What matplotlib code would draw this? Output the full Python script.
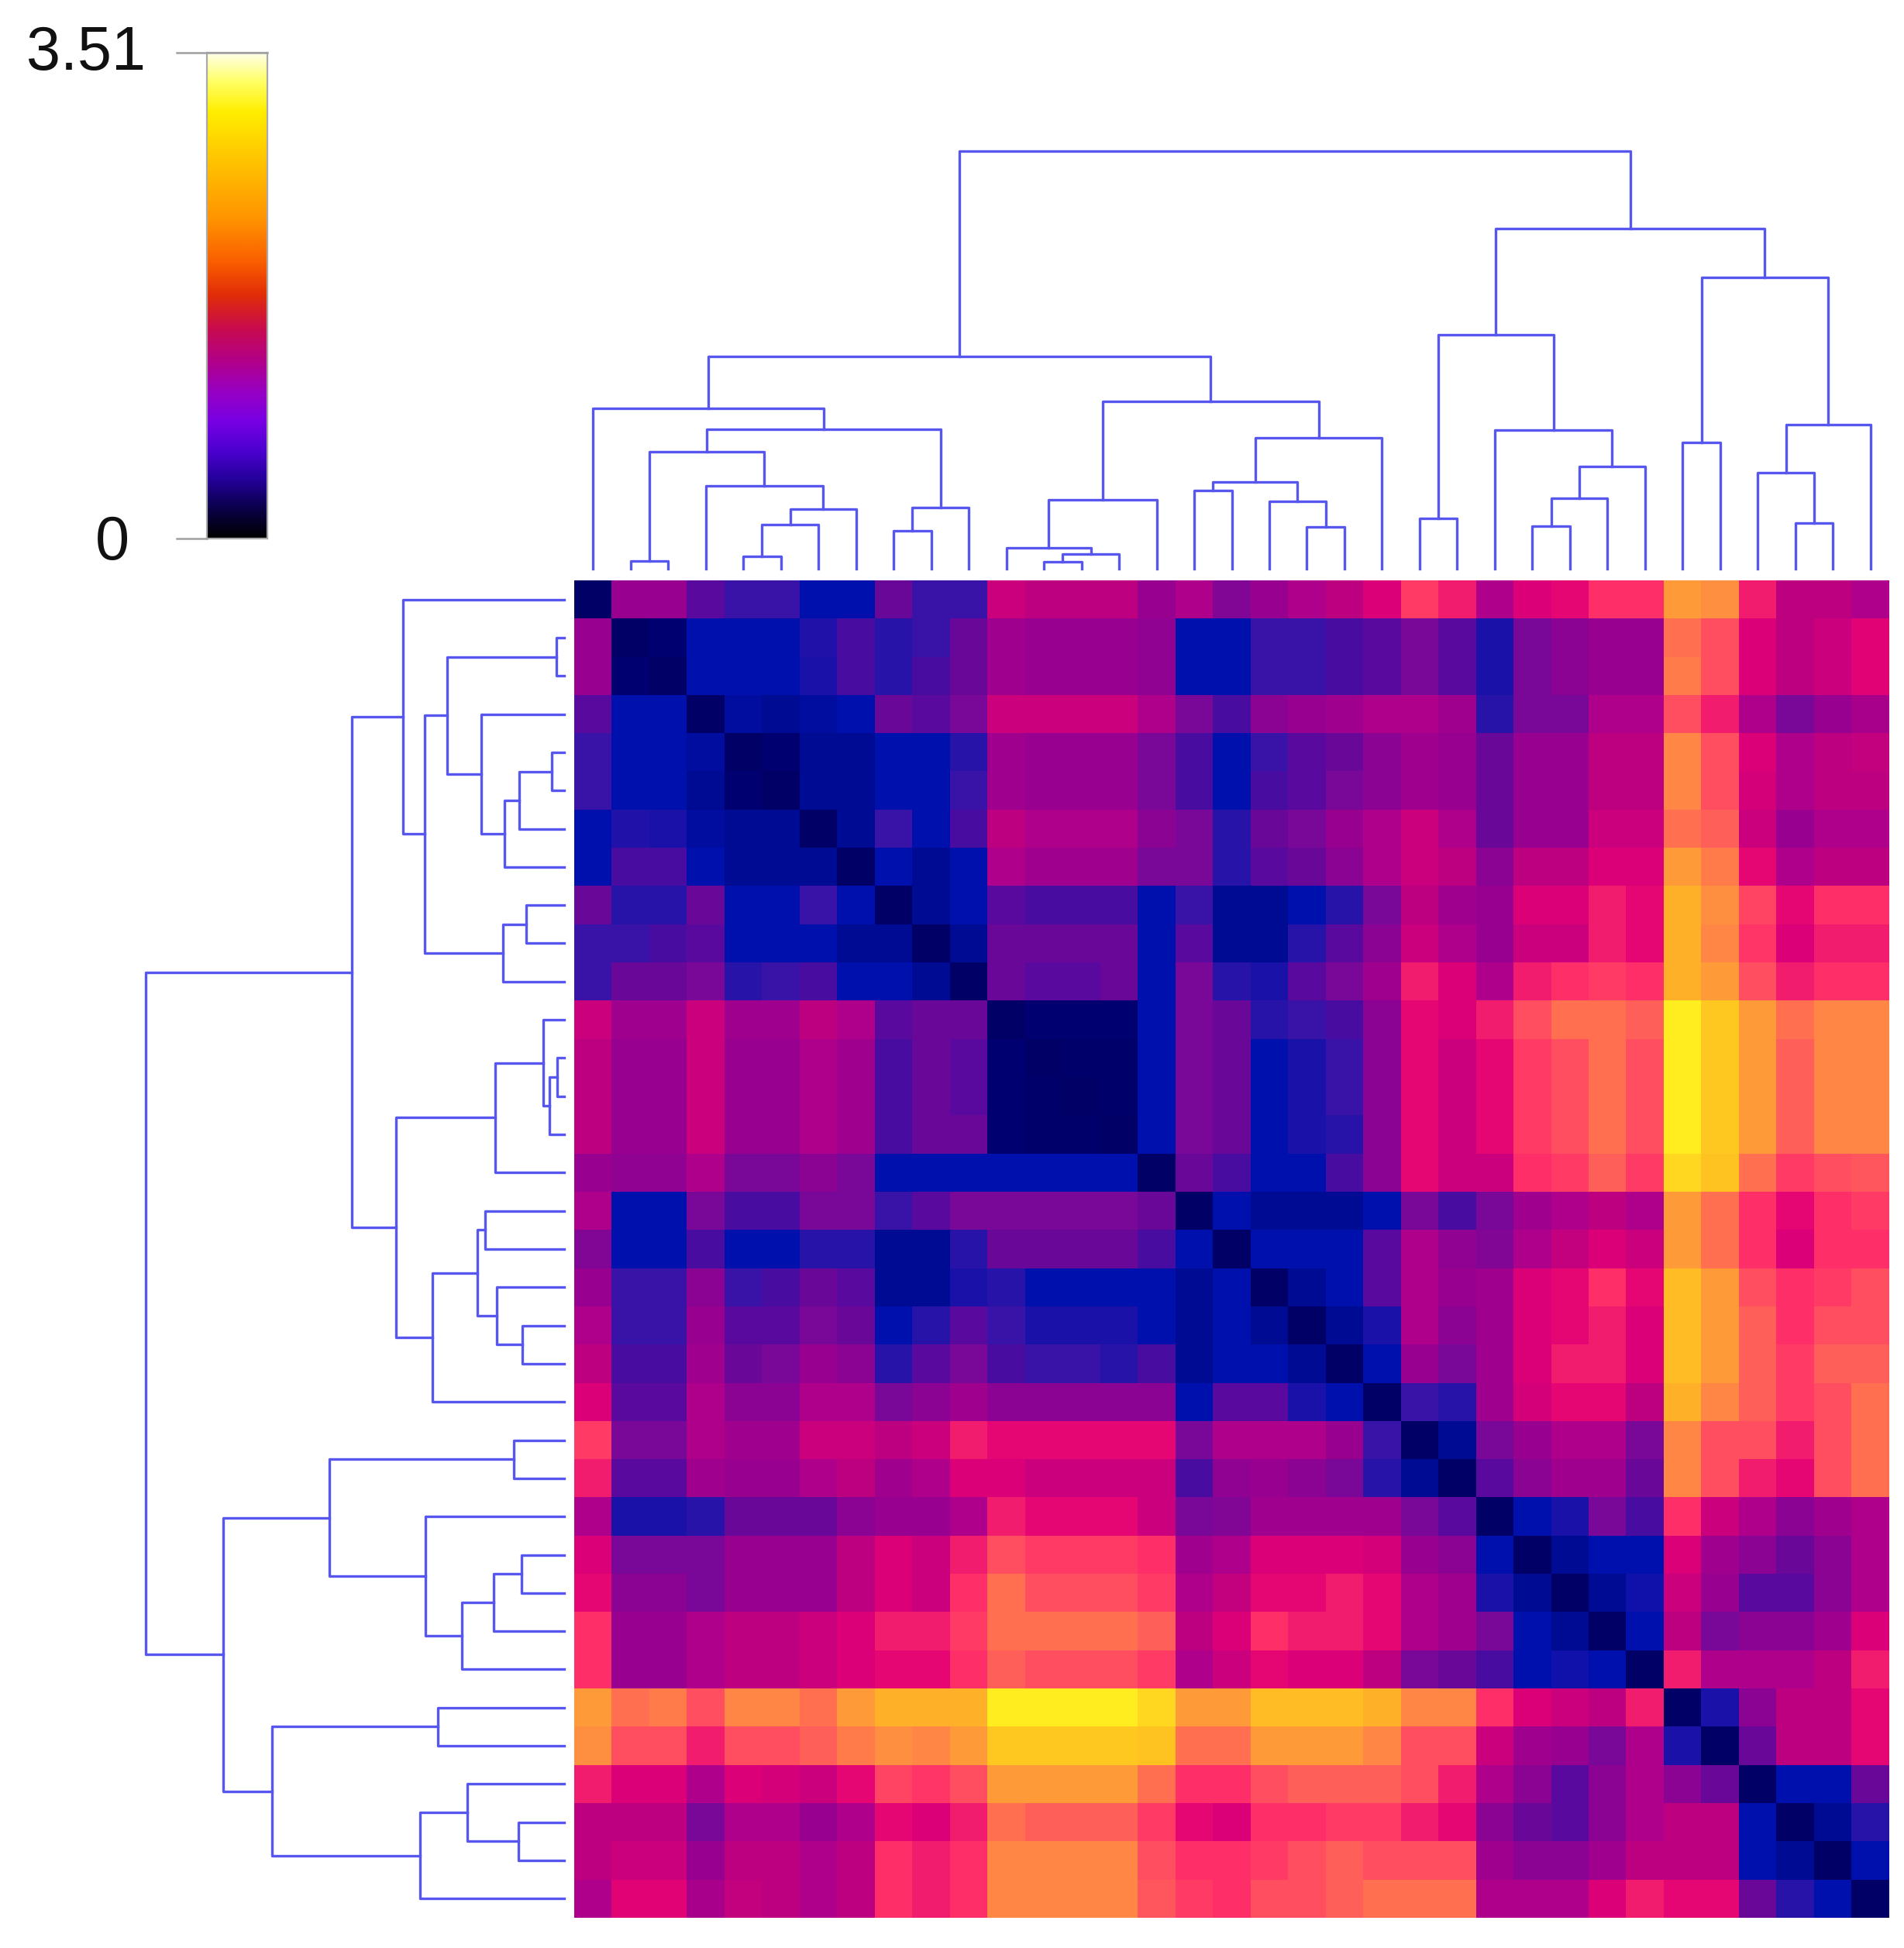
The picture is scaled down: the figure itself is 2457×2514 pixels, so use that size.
import numpy as np
import matplotlib
matplotlib.use("Agg")
import matplotlib.pyplot as plt
from matplotlib.colors import LinearSegmentedColormap
from matplotlib.lines import Line2D

VMAX = 3.51
N_LEAVES = 35

# distance matrix, upper triangle: row i holds columns i..34 (leaf order)
upper = [
    [0.0, 1.5, 1.5, 1.1, 0.9, 0.9, 0.55, 0.55, 1.2, 0.9, 0.9, 1.9, 1.8, 1.8, 1.8, 1.5, 1.7, 1.35,
     1.5, 1.7, 1.8, 2.0, 2.4, 2.2, 1.7, 2.0, 2.1, 2.3, 2.3, 2.9, 2.85, 2.2, 1.8, 1.8, 1.7],
    [0.0, 0.1, 0.55, 0.55, 0.55, 0.75, 1.0, 0.8, 0.9, 1.2, 1.6, 1.5, 1.5, 1.5, 1.45, 0.55, 0.55,
     0.9, 0.9, 1.0, 1.1, 1.3, 1.1, 0.7, 1.3, 1.4, 1.5, 1.5, 2.7, 2.5, 2.0, 1.8, 1.9, 2.05],
    [0.0, 0.55, 0.55, 0.55, 0.7, 1.0, 0.8, 1.0, 1.2, 1.6, 1.5, 1.5, 1.5, 1.45, 0.55, 0.55,
     0.9, 0.9, 1.0, 1.1, 1.3, 1.1, 0.7, 1.3, 1.4, 1.5, 1.5, 2.75, 2.5, 2.0, 1.8, 1.9, 2.05],
    [0.0, 0.45, 0.35, 0.45, 0.55, 1.2, 1.1, 1.3, 1.9, 1.9, 1.9, 1.9, 1.7, 1.3, 1.0,
     1.4, 1.5, 1.6, 1.7, 1.7, 1.6, 0.8, 1.3, 1.3, 1.7, 1.7, 2.5, 2.2, 1.7, 1.3, 1.5, 1.65],
    [0.0, 0.1, 0.35, 0.35, 0.55, 0.55, 0.8, 1.6, 1.5, 1.5, 1.5, 1.3, 1.0, 0.55,
     0.9, 1.1, 1.2, 1.4, 1.6, 1.5, 1.2, 1.5, 1.5, 1.8, 1.8, 2.8, 2.5, 2.0, 1.7, 1.8, 1.85],
    [0.0, 0.35, 0.35, 0.55, 0.55, 0.9, 1.6, 1.5, 1.5, 1.5, 1.3, 1.0, 0.55,
     1.0, 1.1, 1.3, 1.4, 1.6, 1.5, 1.2, 1.5, 1.5, 1.8, 1.8, 2.8, 2.5, 1.95, 1.7, 1.8, 1.8],
    [0.0, 0.35, 0.9, 0.55, 1.0, 1.8, 1.7, 1.7, 1.7, 1.4, 1.3, 0.8,
     1.2, 1.3, 1.5, 1.7, 1.9, 1.7, 1.2, 1.5, 1.5, 1.9, 1.9, 2.7, 2.6, 1.9, 1.5, 1.7, 1.7],
    [0.0, 0.55, 0.35, 0.55, 1.7, 1.6, 1.6, 1.6, 1.3, 1.3, 0.8,
     1.1, 1.2, 1.4, 1.7, 1.9, 1.8, 1.4, 1.8, 1.8, 2.0, 2.0, 2.9, 2.75, 2.1, 1.7, 1.8, 1.8],
    [0.0, 0.35, 0.55, 1.1, 1.0, 1.0, 1.0, 0.55, 0.9, 0.35,
     0.35, 0.55, 0.8, 1.3, 1.8, 1.6, 1.5, 2.0, 2.0, 2.2, 2.1, 3.0, 2.85, 2.45, 2.1, 2.3, 2.3],
    [0.0, 0.35, 1.2, 1.2, 1.2, 1.2, 0.55, 1.1, 0.35,
     0.35, 0.8, 1.1, 1.4, 1.9, 1.7, 1.5, 1.9, 1.9, 2.2, 2.1, 3.0, 2.8, 2.35, 2.0, 2.2, 2.2],
    [0.0, 1.2, 1.1, 1.1, 1.2, 0.55, 1.3, 0.8,
     0.7, 1.1, 1.3, 1.6, 2.2, 2.0, 1.7, 2.2, 2.3, 2.4, 2.3, 3.0, 2.9, 2.5, 2.2, 2.3, 2.3],
    [0.0, 0.1, 0.1, 0.1, 0.55, 1.3, 1.2,
     0.8, 0.9, 1.0, 1.4, 2.1, 2.0, 2.2, 2.5, 2.7, 2.7, 2.6, 3.4, 3.15, 2.9, 2.7, 2.8, 2.8],
    [0.0, 0.05, 0.05, 0.55, 1.3, 1.2,
     0.55, 0.7, 0.9, 1.4, 2.1, 1.9, 2.1, 2.4, 2.5, 2.7, 2.5, 3.4, 3.15, 2.9, 2.6, 2.8, 2.8],
    [0.0, 0.05, 0.55, 1.3, 1.2,
     0.55, 0.7, 0.9, 1.4, 2.1, 1.9, 2.1, 2.4, 2.5, 2.7, 2.5, 3.4, 3.15, 2.9, 2.6, 2.8, 2.8],
    [0.0, 0.55, 1.3, 1.2,
     0.55, 0.7, 0.8, 1.4, 2.1, 1.9, 2.1, 2.4, 2.5, 2.7, 2.5, 3.4, 3.15, 2.9, 2.6, 2.8, 2.8],
    [0.0, 1.2, 1.0,
     0.55, 0.55, 1.0, 1.4, 2.1, 1.9, 1.9, 2.3, 2.4, 2.6, 2.4, 3.25, 3.1, 2.7, 2.4, 2.5, 2.55],
    [0.0, 0.55,
     0.35, 0.35, 0.35, 0.55, 1.3, 1.0, 1.3, 1.6, 1.7, 1.8, 1.7, 2.9, 2.7, 2.3, 2.1, 2.3, 2.4],
    [0.0, 0.55, 0.55, 0.55, 1.1, 1.7, 1.45, 1.35, 1.7, 1.85, 2.0, 1.9, 2.9, 2.7, 2.3, 2.0, 2.3, 2.3],
    [0.0, 0.35, 0.55, 1.1, 1.7, 1.5, 1.6, 2.0, 2.1, 2.3, 2.1, 3.05, 2.9, 2.5, 2.3, 2.4, 2.5],
    [0.0, 0.35, 0.7, 1.7, 1.4, 1.6, 2.0, 2.1, 2.2, 2.0, 3.05, 2.9, 2.6, 2.3, 2.5, 2.5],
    [0.0, 0.55, 1.5, 1.3, 1.6, 2.0, 2.2, 2.2, 2.0, 3.05, 2.9, 2.6, 2.4, 2.6, 2.6],
    [0.0, 0.9, 0.8, 1.6, 1.95, 2.1, 2.1, 1.8, 3.0, 2.8, 2.6, 2.4, 2.5, 2.7],
    [0.0, 0.35, 1.3, 1.5, 1.7, 1.7, 1.3, 2.8, 2.5, 2.5, 2.2, 2.5, 2.7],
    [0.0, 1.1, 1.4, 1.6, 1.6, 1.2, 2.8, 2.5, 2.2, 2.1, 2.5, 2.7],
    [0.0, 0.55, 0.7, 1.3, 1.0, 2.3, 1.9, 1.7, 1.4, 1.6, 1.7],
    [0.0, 0.35, 0.55, 0.55, 2.0, 1.6, 1.4, 1.2, 1.4, 1.7],
    [0.0, 0.35, 0.65, 1.9, 1.5, 1.1, 1.1, 1.4, 1.7],
    [0.0, 0.55, 1.8, 1.3, 1.4, 1.4, 1.6, 2.0],
    [0.0, 2.2, 1.7, 1.7, 1.7, 1.8, 2.2],
    [0.0, 0.7, 1.4, 1.8, 1.8, 2.1],
    [0.0, 1.2, 1.8, 1.8, 2.1],
    [0.0, 0.55, 0.55, 1.2],
    [0.0, 0.35, 0.8],
    [0.0, 0.55],
    [0.0],
]

# hierarchical clustering: (left node, right node, height); leaves 0..34, merge k -> node 35+k
merges = [
    (1, 2, 0.25), (4, 5, 0.42), (36, 6, 1.50), (37, 7, 2.00), (3, 38, 2.80),
    (35, 39, 3.95), (8, 9, 1.28), (41, 10, 2.07), (40, 42, 4.70), (0, 43, 5.42),
    (12, 13, 0.24), (45, 14, 0.50), (11, 46, 0.70), (47, 15, 2.32), (16, 17, 2.65),
    (19, 20, 1.40), (18, 50, 2.27), (49, 51, 2.92), (52, 21, 4.42), (48, 53, 5.65),
    (44, 54, 7.15), (22, 23, 1.70), (25, 26, 1.44), (57, 27, 2.38), (58, 28, 3.45),
    (24, 59, 4.67), (56, 60, 7.90), (29, 30, 4.25), (32, 33, 1.55), (31, 63, 3.25),
    (64, 34, 4.85), (62, 65, 9.82), (61, 66, 11.48), (55, 67, 14.08),
]

# colours of the heatmap cells against their values
heat_values = [0.0, 0.1, 0.35, 0.55, 0.7, 0.8, 0.9, 1.0, 1.1, 1.2, 1.3, 1.4, 1.5, 1.6, 1.7,
               1.8, 1.9, 2.0, 2.1, 2.2, 2.3, 2.4, 2.5, 2.6, 2.7, 2.8, 2.9, 3.0, 3.05, 3.15,
               3.25, 3.4, 3.51]
heat_colors = ["#000066", "#000072", "#000c94", "#0010ae", "#1a12a8", "#2814a8", "#3a12a8",
               "#4a0ca0", "#5a0aa0", "#6a0898", "#7a0898", "#8a0494", "#980090", "#a0008e",
               "#b0008a", "#bc0080", "#cc007c", "#dc0078", "#e60574", "#f21c70", "#ff2f69",
               "#ff3a66", "#ff4e61", "#ff5f5a", "#ff7050", "#ff8546", "#ff9a3a", "#ffb02a",
               "#ffbc25", "#ffc820", "#ffd420", "#ffee20", "#fff880"]

# colours of the colour key
bar_pos = [0.0, 0.06, 0.12, 0.18, 0.24, 0.30, 0.36, 0.43, 0.50, 0.57, 0.66, 0.78, 0.88, 0.94, 1.0]
bar_colors = ["#000000", "#0a0048", "#24009a", "#4c00d0", "#7800e4", "#9600c4", "#b0008e",
              "#c80a50", "#e02c08", "#fa5e00", "#ff9400", "#ffc400", "#ffee00", "#ffff60",
              "#ffffe6"]

tick_labels = ["0", "3.51"]

LINE_COLOR = "#5757f0"
LINE_W = 2.4


def build_matrix(upper, n):
    dist = np.zeros((n, n))
    for i, row in enumerate(upper):
        dist[i, i:] = row
        dist[i:, i] = row
    return dist


def dendro_segments(merges, n):
    pos = {i: float(i) for i in range(n)}
    hgt = {i: 0.0 for i in range(n)}
    segs = []
    for k, (a, b, h) in enumerate(merges):
        xa, xb = pos[a], pos[b]
        segs.append(([xa, xa, xb, xb], [hgt[a], h, h, hgt[b]]))
        pos[n + k] = (xa + xb) / 2
        hgt[n + k] = h
    return segs


W, H = 2457, 2514


def box(x0, y0, x1, y1):
    # pixel box (top-left origin) -> figure fraction rect
    return [x0 / W, 1 - y1 / H, (x1 - x0) / W, (y1 - y0) / H]


def main():
    dist = build_matrix(upper, N_LEAVES)
    heat_cmap = LinearSegmentedColormap.from_list(
        "heat", list(zip(np.array(heat_values) / VMAX, heat_colors)))
    bar_cmap = LinearSegmentedColormap.from_list("key", list(zip(bar_pos, bar_colors)))

    fig = plt.figure(figsize=(W / 100, H / 100), dpi=100)
    fig.patch.set_facecolor("white")

    # heatmap
    ax_heat = fig.add_axes(box(741, 749, 2438, 2475))
    ax_heat.imshow(dist, cmap=heat_cmap, vmin=0, vmax=VMAX, aspect="auto",
                   interpolation="nearest",
                   extent=(-0.5, N_LEAVES - 0.5, N_LEAVES - 0.5, -0.5))
    ax_heat.axis("off")

    segs = dendro_segments(merges, N_LEAVES)
    root_h = merges[-1][2]

    # column dendrogram
    ax_top = fig.add_axes(box(741, 195, 2438, 734))
    for xs, hs in segs:
        ax_top.plot(xs, hs, color=LINE_COLOR, lw=LINE_W, clip_on=False)
    ax_top.set_xlim(-0.5, N_LEAVES - 0.5)
    ax_top.set_ylim(0, root_h)
    ax_top.axis("off")

    # row dendrogram
    ax_left = fig.add_axes(box(188, 749, 728, 2475))
    for xs, hs in segs:
        ax_left.plot(hs, xs, color=LINE_COLOR, lw=LINE_W, clip_on=False)
    ax_left.set_xlim(root_h, 0)
    ax_left.set_ylim(N_LEAVES - 0.5, -0.5)
    ax_left.axis("off")

    # colour key
    ax_cb = fig.add_axes(box(267, 68, 345, 695))
    grad = np.linspace(0, VMAX, 512)[:, None]
    ax_cb.imshow(grad, cmap=bar_cmap, vmin=0, vmax=VMAX, origin="lower",
                 aspect="auto", extent=(0, 1, 0, VMAX))
    ax_cb.set_xticks([])
    ax_cb.set_yticks([])
    for sp in ax_cb.spines.values():
        sp.set_color("#aaaaaa")
        sp.set_linewidth(1.6)

    fig.add_artist(Line2D([228 / W, 345 / W], [1 - 68 / H] * 2, color="#a0a0a0", lw=1.8))
    fig.add_artist(Line2D([228 / W, 267 / W], [1 - 695 / H] * 2, color="#a0a0a0", lw=1.8))

    fig.text(123 / W, 1 - 722 / H, tick_labels[0], fontsize=57, color="#111111",
             family=["Liberation Sans", "DejaVu Sans"], ha="left", va="baseline")
    fig.text(34 / W, 1 - 90 / H, tick_labels[1], fontsize=57, color="#111111",
             family=["Liberation Sans", "DejaVu Sans"], ha="left", va="baseline")

    fig.savefig("out.png", dpi=100, facecolor="white")


if __name__ == "__main__":
    main()
